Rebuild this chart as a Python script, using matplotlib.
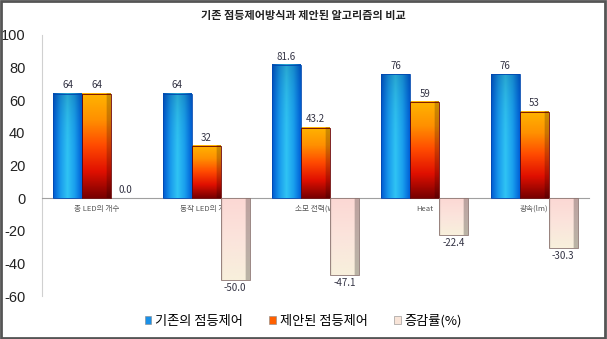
import numpy as np
import matplotlib.pyplot as plt
from matplotlib.colors import LinearSegmentedColormap
from matplotlib.patches import Rectangle

plt.rcParams['font.family'] = ['Noto Sans CJK KR', 'DejaVu Sans']

title = '기존 점등제어방식과 제안된 알고리즘의 비교'
categories = ['총 LED의 개수', '동작 LED의 개수', '소모 전력(W)', 'Heat', '광속(lm)']
series_names = ['기존의 점등제어', '제안된 점등제어', '증감률(%)']
existing = [64, 64, 81.6, 76, 76]
proposed = [64, 32, 43.2, 59, 53]
change = [0.0, -50.0, -47.1, -22.4, -30.3]
y_ticks = [-60, -40, -20, 0, 20, 40, 60, 80, 100]

# colour ramps for the fake 3D gradient bars
blue_h = LinearSegmentedColormap.from_list('b', ['#0058d0', '#1898ec', '#30c4f4', '#1aa0ee', '#0060d8'])
red_v = LinearSegmentedColormap.from_list('r', ['#ffb400', '#ff9000', '#ff4a00', '#e01000', '#7a0000'])
pink_v = LinearSegmentedColormap.from_list('p', ['#fcd8d4', '#fbe4dc', '#f8f0dc'])
edge_cols = ['#0048b0', '#6a0000', '#8a7470']


def bar_image(k, n=80):
    h = np.linspace(0, 1, n)
    v = np.linspace(0, 1, n)
    if k == 0:
        img = blue_h(np.tile(h, (n, 1)))[..., :3]
        img = img * (1 - 0.15 * (1 - v[:, None]) ** 4)[..., None]
    elif k == 1:
        img = red_v(np.tile(v[:, None], (1, n)))[..., :3]
        shade = np.where(h > 0.85, 0.8, 1.0)
        img = img * shade[None, :, None]
    else:
        img = pink_v(np.tile(v[:, None], (1, n)))[..., :3]
        shade = np.where(h > 0.85, 0.75, np.where(h < 0.06, 0.93, 1.0))
        img = img * shade[None, :, None]
    return np.clip(img, 0, 1)


fig = plt.figure(figsize=(6.07, 3.39), dpi=100)
ax = fig.add_axes([42 / 607, 1 - 296 / 339, 547 / 607, 261 / 339])

width = 0.265
x = np.arange(len(categories))
all_series = [existing, proposed, change]

for k, vals in enumerate(all_series):
    bars = ax.bar(x + (k - 1) * width, vals, width, color='none', edgecolor='none', zorder=3)
    img = bar_image(k)
    for b, v in zip(bars, vals):
        x0, w = b.get_x(), b.get_width()
        y0, y1 = min(0, v), max(0, v)
        if y1 > y0:
            ax.imshow(img, extent=[x0, x0 + w, y0, y1], origin='upper',
                      aspect='auto', zorder=3, interpolation='bilinear')
            ax.add_patch(Rectangle((x0, y0), w, y1 - y0, fill=False, edgecolor=edge_cols[k],
                                   linewidth=0.6, zorder=4))
        txt = f'{v:.1f}' if k == 2 else f'{v:g}'
        if v < 0:
            ax.text(x0 + w / 2, v - 2, txt, ha='center', va='top', fontsize=7, color='#333344', zorder=5)
        else:
            ax.text(x0 + w / 2, v + 2, txt, ha='center', va='bottom', fontsize=7, color='#333344', zorder=5)

ax.set_xlim(-0.5, len(categories) - 0.5)
ax.set_ylim(-60, 100)
ax.set_yticks(y_ticks)
ax.set_yticklabels([str(t) for t in y_ticks], fontsize=10.5, color='#222222',
                   family=['Liberation Sans', 'DejaVu Sans'])
ax.tick_params(axis='y', length=0, pad=12)

ax.spines['bottom'].set_position(('data', 0))
ax.spines['bottom'].set_color('#a0a0a0')
ax.spines['bottom'].set_linewidth(0.8)
ax.spines['left'].set_color('#d0d0d0')
ax.spines['top'].set_visible(False)
ax.spines['right'].set_visible(False)
ax.set_xticks(x)
ax.set_xticklabels(categories, fontsize=5.5, color='#555555')
ax.tick_params(axis='x', length=0, pad=5)
ax.set_facecolor('none')

fig.text(0.5, 1 - 16 / 339, title, ha='center', va='center', fontsize=8, fontweight='bold', color='#222222')

handles = [Rectangle((0, 0), 1, 1, facecolor=c, edgecolor='#888888', linewidth=0.4)
           for c in ['#1a90e8', '#ff6000', '#f8e4d8']]
fig.legend(handles, series_names, loc='center', bbox_to_anchor=(0.5, 1 - 321 / 339), ncol=3,
           frameon=False, fontsize=9.5, handlelength=0.5, handleheight=0.5, handletextpad=0.3,
           columnspacing=2.0)

fig.add_artist(Rectangle((0.002, 0.004), 0.995, 0.992, transform=fig.transFigure, fill=False,
                         edgecolor='#555555', linewidth=2))

fig.savefig('out.png', dpi=100)
